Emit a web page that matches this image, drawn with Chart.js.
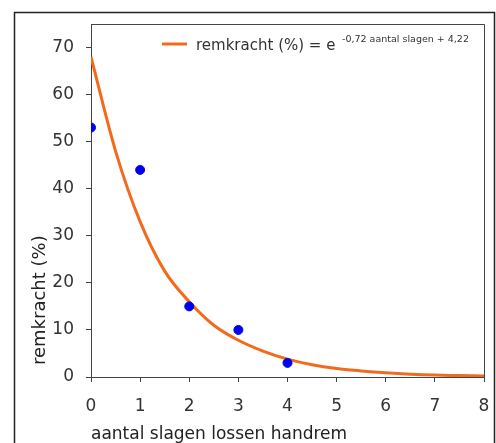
<!DOCTYPE html>
<html>
<head>
<meta charset="utf-8">
<script src="https://cdn.jsdelivr.net/npm/chart.js@4"></script>
<style>
    html, body { margin: 0; padding: 0; background: #fff; }
    #wrap { width: 496px; height: 443px; position: relative; }
</style>
</head>
<body>
<div id="wrap"><canvas id="chart" width="496" height="443"></canvas></div>
<script>
// gemeten punten
const slagen = [0, 1, 2, 3, 4];
const remkracht = [53, 44, 15, 10, 3];

// trendlijn
const trendX = [0, 0.5, 1, 1.5, 2, 2.5, 3, 3.5, 4, 4.5, 5, 5.5, 6, 6.5, 7, 7.5, 8];
const trendY = [68, 48, 33, 22.5, 16, 11, 7.8, 5.5, 3.8, 2.6, 1.8, 1.3, 0.9, 0.6, 0.4, 0.3, 0.2];

const xTicks = [0, 1, 2, 3, 4, 5, 6, 7, 8];
const yTicks = [0, 10, 20, 30, 40, 50, 60, 70];

const ORANGE = "#f26b1d";
const BLUE = "#0000ee";
const AXIS = "#444";
const FONT = "'DejaVu Sans', Verdana, sans-serif";

// --------------------------------------------------------------------
// kader, box rond plot, y-titel en legenda met exponent
// --------------------------------------------------------------------
const decor = {
    id: "decor",
    afterDraw(chart) {
        const { ctx, chartArea: a } = chart;
        ctx.save();
        // buitenkader
        ctx.strokeStyle = "#222";
        ctx.lineWidth = 1.5;
        ctx.strokeRect(14.5, 12.5, 480, 440);
        // box boven/rechts
        ctx.strokeStyle = AXIS;
        ctx.lineWidth = 1;
        ctx.beginPath();
        ctx.moveTo(a.left, a.top + 0.5);
        ctx.lineTo(a.right + 0.5, a.top + 0.5);
        ctx.lineTo(a.right + 0.5, a.bottom);
        ctx.stroke();

        // y-titel
        ctx.save();
        ctx.translate(40, 365);
        ctx.rotate(-Math.PI / 2);
        ctx.fillStyle = "#222";
        ctx.font = "18px " + FONT;
        ctx.textAlign = "left";
        ctx.textBaseline = "middle";
        ctx.fillText("remkracht (%)", 0, 0);
        ctx.restore();

        // legenda
        ctx.strokeStyle = ORANGE;
        ctx.lineWidth = 3;
        ctx.beginPath();
        ctx.moveTo(162, 44);
        ctx.lineTo(187, 44);
        ctx.stroke();
        ctx.fillStyle = "#333";
        ctx.textBaseline = "alphabetic";
        ctx.font = "15px " + FONT;
        ctx.fillText("remkracht (%) = e", 196, 50);
        ctx.font = "9.5px " + FONT;
        ctx.fillText("-0,72 aantal slagen + 4,22", 342, 42);
        ctx.restore();
    }
};

new Chart(document.getElementById("chart"), {
    type: "scatter",
    data: {
        datasets: [
            {
                label: "trend",
                type: "line",
                data: trendX.map((x, i) => ({ x, y: trendY[i] })),
                borderColor: ORANGE,
                borderWidth: 3,
                pointRadius: 0,
                cubicInterpolationMode: "monotone",
                fill: false,
                order: 2
            },
            {
                label: "metingen",
                data: slagen.map((x, i) => ({ x, y: remkracht[i] })),
                backgroundColor: BLUE,
                borderColor: BLUE,
                pointRadius: 4.5,
                order: 1
            }
        ]
    },
    options: {
        responsive: false,
        animation: false,
        layout: { padding: { top: 24, right: 12, left: 0, bottom: 0 } },
        plugins: {
            legend: { display: false },
            tooltip: { enabled: false }
        },
        scales: {
            x: {
                type: "linear",
                min: 0,
                max: 8,
                afterBuildTicks: s => { s.ticks = xTicks.map(v => ({ value: v })); },
                afterFit: s => { s.height = 66; s.paddingLeft = 0; s.paddingRight = 0; },
                grid: { drawOnChartArea: false, drawTicks: true, tickLength: 5, color: AXIS },
                border: { color: AXIS, width: 1 },
                ticks: { color: "#333", font: { family: FONT, size: 17 }, padding: 14 },
                title: {
                    display: true,
                    text: "aantal slagen lossen handrem",
                    align: "start",
                    color: "#222",
                    font: { family: FONT, size: 17 },
                    padding: { top: 0, bottom: -2 }
                }
            },
            y: {
                min: 0,
                max: 75,
                afterBuildTicks: s => { s.ticks = yTicks.map(v => ({ value: v })); },
                afterFit: s => { s.width = 91; s.paddingTop = 0; s.paddingBottom = 0; },
                grid: { drawOnChartArea: false, drawTicks: true, tickLength: 5, color: AXIS },
                border: { color: AXIS, width: 1 },
                ticks: { color: "#333", font: { family: FONT, size: 17 }, padding: 12 },
                title: { display: false }
            }
        }
    },
    plugins: [decor]
});
</script>
</body>
</html>
